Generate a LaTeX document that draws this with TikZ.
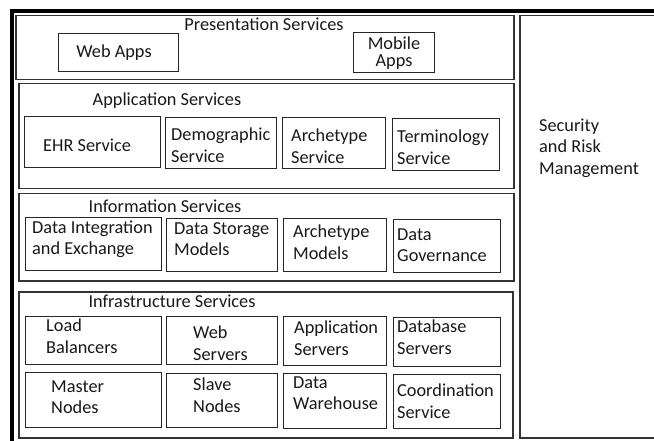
\documentclass[tikz,border=0pt]{standalone}
\usepackage{fontspec}
\setmainfont{Carlito}
\begin{document}
\begin{tikzpicture}[x=1pt,y=-1pt,
  box/.style={draw=black!85, line width=1.3pt, inner sep=0pt, anchor=north west},
  grp/.style={draw=black!80, line width=1.5pt, inner sep=0pt, anchor=north west},
  txt/.style={inner sep=0pt, align=left, font=\fontsize{18.3}{21.5}\selectfont, text=black!90},
  ttl/.style={txt, anchor=center},
  lt/.style={txt, anchor=west}]
\useasboundingbox (0,0) rectangle (654,441);
\clip (0,0) rectangle (654,441);
\fill[white] (0,0) rectangle (654,441);
\newcommand{\bx}[6]{\node[#1, minimum width={#5-#3}, minimum height={#6-#4}] (#2) at (#3,#4) {};}
% outer frame
\coordinate (fbl) at (12,445);
\coordinate (ftl) at (12,11);
\coordinate (ftr) at (660,11);
\draw[line width=3.5pt, line join=miter] (fbl) -- (ftl) -- (ftr);
% groups
\bx{grp}{pres}{15}{15}{513}{79}
\bx{grp}{app}{18}{83}{513}{188}
\bx{grp}{info}{18}{193}{513}{280}
\bx{grp}{infra}{18}{291}{512}{437}
\bx{grp}{sec}{519}{15}{670}{437}
% presentation
\bx{box}{web}{58}{33}{178}{71}
\bx{box}{mobile}{353}{32}{434}{72}
\node[ttl] (tpres) at (264,24) {Presentation Services};
\node[ttl] (tweb) at (114,53) {Web Apps};
\node[ttl, align=center, font=\fontsize{18.3}{17}\selectfont] (tmobile) at (394,53) {Mobile\\Apps};
% application
\bx{box}{ehr}{24}{116}{160}{167}
\bx{box}{demo}{165}{117}{276}{168}
\bx{box}{archsvc}{282}{117}{385}{168}
\bx{box}{term}{392}{118}{499}{170}
\node[ttl] (tapp) at (167,101) {Application Services};
\node[lt] (tehr) at (43,145) {EHR Service};
\node[lt] (tdemo) at (171,145) {Demographic\\Service};
\node[lt] (tarchsvc) at (291,146) {Archetype\\Service};
\node[lt] (tterm) at (397,147) {Terminology\\Service};
% information
\bx{box}{dint}{25}{217}{161}{270}
\bx{box}{dstore}{166}{218}{277}{271}
\bx{box}{archmod}{283}{218}{386}{271}
\bx{box}{dgov}{393}{219}{500}{272}
\node[ttl] (tinfo) at (165,206) {Information Services};
\node[lt] (tdint) at (32,239) {Data Integration\\and Exchange};
\node[lt] (tdstore) at (174,239) {Data Storage\\Models};
\node[lt] (tarchmod) at (293,242) {Archetype\\Models};
\node[lt] (tdgov) at (397,245) {Data\\Governance};
% infrastructure
\bx{box}{load}{25}{316}{161}{364}
\bx{box}{websrv}{166}{316}{277}{364}
\bx{box}{appsrv}{283}{316}{386}{365}
\bx{box}{dbsrv}{393}{317}{500}{366}
\bx{box}{master}{25}{372}{161}{427}
\bx{box}{slave}{166}{373}{277}{427}
\bx{box}{dwh}{283}{373}{386}{428}
\bx{box}{coord}{393}{374}{500}{428}
\node[ttl] (tinfra) at (172,301) {Infrastructure Services};
\node[lt] (tload) at (46,336) {Load\\Balancers};
\node[lt] (twebsrv) at (193,343) {Web\\Servers};
\node[lt] (tappsrv) at (294,338) {Application\\Servers};
\node[lt] (tdbsrv) at (397,337) {Database\\Servers};
\node[lt] (tmaster) at (51,397) {Master\\Nodes};
\node[lt] (tslave) at (193,395) {Slave\\Nodes};
\node[lt] (tdwh) at (293,393) {Data\\Warehouse};
\node[lt] (tcoord) at (397,401) {Coordination\\Service};
% security
\node[lt] (tsec) at (539,148) {Security\\and Risk\\Management};
\end{tikzpicture}
\end{document}
